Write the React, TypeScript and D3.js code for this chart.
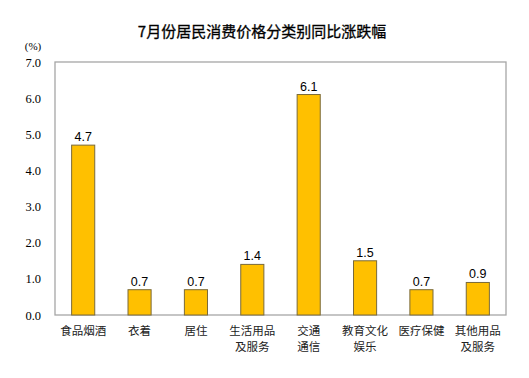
import React from "react";
import * as d3 from "d3";

const title = "7月份居民消费价格分类别同比涨跌幅";
const categories = ["食品烟酒", "衣着", "居住", "生活用品\n及服务", "交通\n通信", "教育文化\n娱乐", "医疗保健", "其他用品\n及服务"];
const values = [4.7, 0.7, 0.7, 1.4, 6.1, 1.5, 0.7, 0.9];
const yTicks = [0, 1, 2, 3, 4, 5, 6, 7];

const W = 529, H = 378;
const left = 55, right = 506, top = 62, bottom = 315;

export default function App() {
  const x = d3.scaleBand<string>().domain(categories).range([left, right]).paddingInner(0.59).paddingOuter(0.295);
  const y = d3.scaleLinear().domain([0, 7]).range([bottom, top]);
  const sans = "'Noto Sans CJK SC', 'Liberation Sans', sans-serif";
  return (
    <svg width={W} height={H} style={{ position: "absolute", left: 0, top: 0 }}>
      <rect x={0} y={0} width={W} height={H} fill="#fff" />
      <text x={262} y={37} textAnchor="middle" fontFamily={sans} fontSize={15} fontWeight={400} fill="#000" stroke="#000" strokeWidth={0.3}>{title}</text>
      <text x={33} y={50} textAnchor="middle" fontFamily="'Liberation Serif', serif" fontSize={11} fill="#000">(%)</text>
      {yTicks.map((t) => (
        <text key={t} x={41} y={y(t) + 4.5} textAnchor="end" fontFamily="'Liberation Serif', serif" fontSize={12.5} fill="#000">{t.toFixed(1)}</text>
      ))}
      <rect x={left} y={top} width={right - left} height={bottom - top} fill="none" stroke="#a6a6a6" strokeWidth={1.3} />
      {categories.map((c, i) => (
        <g key={c}>
          <rect x={x(c)!} y={y(values[i])} width={x.bandwidth()} height={bottom - y(values[i])} fill="#FFC000" stroke="#7a6a3a" strokeWidth={1} />
          <text x={x(c)! + x.bandwidth() / 2} y={y(values[i]) - 4} textAnchor="middle" fontFamily="'Liberation Sans', Arial, sans-serif" fontSize={12.5} fill="#000">{values[i].toFixed(1)}</text>
          {c.split("\n").map((line, j) => (
            <text key={j} x={x(c)! + x.bandwidth() / 2} y={334.5 + j * 16} textAnchor="middle" fontFamily={sans} fontSize={11.5} fill="#222">{line}</text>
          ))}
        </g>
      ))}
    </svg>
  );
}
